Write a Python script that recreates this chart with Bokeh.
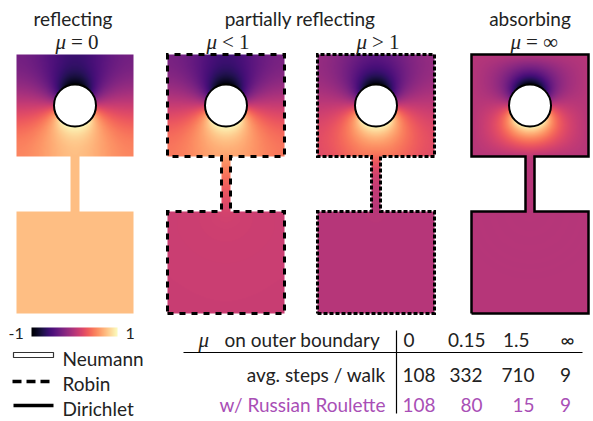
import numpy as np
from bokeh.plotting import figure
from bokeh.models import Range1d
from bokeh.palettes import Magma256
from bokeh.core.properties import value
from bokeh.embed import file_html
from bokeh.resources import INLINE

# ---------------- data ----------------
panel_titles = ["reflecting", "partially reflecting", "absorbing"]
panel_mu_rel = ["=", "<", ">", "="]
panel_mu_val = ["0", "1", "1", "\u221e"]
outer_mu = [0.0, 0.15, 1.5, float("inf")]          # Robin coefficient on outer boundary
outer_mu_labels = ["0", "0.15", "1.5", "\u221e"]
avg_steps = [108, 332, 710, 9]
rr_steps = [108, 80, 15, 9]
row_labels = ["avg. steps / walk", "w/ Russian Roulette"]
legend_labels = ["Neumann", "Robin", "Dirichlet"]
cbar_ticks = ["-1", "1"]
cbar_range = (-1.0, 1.0)
circle_gain, circle_offset = 1.15, 0.12   # Dirichlet data on the hole: -gain*sin(theta)+offset

# ---------------- layout (pixels) ----------------
FW, FH = 593, 421
SQ_W, SQ_H, CH_W, CH_L, R = 117, 102, 9, 55, 21
DOM_H = 2 * SQ_H + CH_L
UNIT = SQ_W                      # one length unit = square width
panel_x = [8, 159, 309, 463]
panel_y = 100
outline_style = [None, ("#000000", 3, "6 6"), ("#000000", 3, "4 2"), ("#000000", 2.5, "solid")]
FONT = "Lato"
MATH = "Liberation Serif"
INK = "#222222"
PURPLE = "#a94fb6"
TY = 4   # text baseline correction


def solve(mu, iters=4000, tol=1e-7):
    """Laplace equation, Dirichlet data on the circle, Robin (mu) on the outer boundary."""
    nx, ny = SQ_W, DOM_H
    xs = np.arange(nx) + 0.5
    ys = np.arange(ny) + 0.5
    X, Y = np.meshgrid(xs, ys)
    cx = SQ_W / 2
    cy = SQ_H + CH_L + SQ_H / 2
    dom = (Y < SQ_H) | (Y >= SQ_H + CH_L) | (np.abs(X - cx) < CH_W / 2)
    rr = np.hypot(X - cx, Y - cy)
    circ = rr < R
    unk = dom & ~circ
    g = np.clip(-circle_gain * (Y - cy) / np.maximum(rr, 1e-9) + circle_offset, -1, 1)
    mu_px = mu / UNIT
    r = -1.0 if np.isinf(mu_px) else (1 - mu_px / 2) / (1 + mu_px / 2)
    D = np.pad(dom, 1)
    k = ((~D[:-2, 1:-1]).astype(float) + (~D[2:, 1:-1]) + (~D[1:-1, :-2]) + (~D[1:-1, 2:]))
    diag = np.where(unk, 4.0 - k * r, 1.0)
    um = unk.astype(float)
    P = np.zeros((ny + 2, nx + 2))

    def nbsum(v):
        P[1:-1, 1:-1] = v
        return P[:-2, 1:-1] + P[2:, 1:-1] + P[1:-1, :-2] + P[1:-1, 2:]

    gf = np.where(circ, g, 0.0)
    b = nbsum(gf) * um

    def A(v):
        return (diag * v - nbsum(v * um)) * um

    x = np.zeros((ny, nx))
    res = b - A(x)
    z = res / diag
    pv = z.copy()
    rz = np.sum(res * z)
    b0 = np.sqrt(np.sum(b * b))
    for _ in range(iters):
        Ap = A(pv)
        alpha = rz / np.sum(pv * Ap)
        x += alpha * pv
        res -= alpha * Ap
        if np.sqrt(np.sum(res * res)) < tol * b0:
            break
        z = res / diag
        rz_new = np.sum(res * z)
        pv = z + (rz_new / rz) * pv
        rz = rz_new
    return x, unk


def hex2u32(h):
    r = int(h[1:3], 16); g = int(h[3:5], 16); b = int(h[5:7], 16)
    return (255 << 24) | (b << 16) | (g << 8) | r


lut = np.array([hex2u32(c) for c in Magma256], dtype=np.uint32)


def colorize(u, mask):
    t = (u - cbar_range[0]) / (cbar_range[1] - cbar_range[0])
    idx = np.clip(np.round(t * 255), 0, 255).astype(int)
    img = np.zeros(u.shape, dtype=np.uint32)
    img[mask] = lut[idx[mask]]
    return img


p = figure(width=FW, height=FH, x_range=Range1d(-8, FW - 8), y_range=Range1d(-8, FH - 8),
           output_backend="svg", toolbar_location=None, min_border=0,
           x_axis_location=None, y_axis_location=None)
p.grid.visible = False
p.outline_line_color = None
p.background_fill_color = "white"
p.border_fill_color = "white"


def txt(x, y, s, size=19, align="left", color=INK, font=FONT, style="normal"):
    p.text(x=[x], y=[y + TY], text=[s], text_font=value(font), text_font_size=f"{size}px",
           text_align=align, text_baseline="alphabetic", text_color=color,
           text_font_style=style)


# ---------------- panels ----------------
for i, mu in enumerate(outer_mu):
    x0 = panel_x[i]
    u, mask = solve(mu)
    p.image_rgba(image=[colorize(u, mask)], x=x0, y=panel_y, dw=SQ_W, dh=DOM_H)
    st = outline_style[i]
    if st is not None:
        c = x0 + SQ_W / 2
        a, b = c - CH_W / 2, c + CH_W / 2
        y0 = panel_y
        y1, y2, y3 = y0 + SQ_H, y0 + SQ_H + CH_L, y0 + DOM_H
        xs = [x0, x0 + SQ_W, x0 + SQ_W, b, b, x0 + SQ_W, x0 + SQ_W, x0, x0, a, a, x0, x0]
        ys = [y0, y0, y1, y1, y2, y2, y3, y3, y2, y2, y1, y1, y0]
        p.line(xs, ys, line_color=st[0], line_width=st[1], line_dash=st[2], line_join="miter")
    cx = x0 + SQ_W / 2
    cy = panel_y + SQ_H + CH_L + SQ_H / 2
    p.circle(x=[cx], y=[cy], radius=R, fill_color="white", line_color="black", line_width=2)
    # mu label
    txt(cx - 9, 368, "\u03bc", size=21, align="right", font=MATH, style="italic")
    txt(cx - 4, 368, panel_mu_rel[i] + " " + panel_mu_val[i], size=21, font=MATH)

# titles
c1 = panel_x[0] + SQ_W / 2
c23 = (panel_x[1] + panel_x[2] + SQ_W) / 2 - 1
c4 = panel_x[3] + SQ_W / 2
txt(c1 - 2, 391, panel_titles[0], align="center")
txt(c23, 391, panel_titles[1], align="center")
txt(c4, 391, panel_titles[2], align="center")

# ---------------- colorbar ----------------
cb = lut[np.arange(256)][None, :]
p.image_rgba(image=[cb], x=23, y=77, dw=86, dh=9)
txt(0, 76, cbar_ticks[0], size=16)
txt(117, 76, cbar_ticks[1], size=16)

# ---------------- legend ----------------
p.quad(left=[5], right=[45], bottom=[56], top=[61], fill_color="white", line_color="#333333", line_width=1.2)
p.line([4, 46], [32, 32], line_color="black", line_width=3.5, line_dash="9 5")
p.line([5, 45], [8, 8], line_color="black", line_width=3.5)
txt(54, 51, legend_labels[0])
txt(54, 26, legend_labels[1])
txt(54, 1, legend_labels[2])

# ---------------- table ----------------
p.line([175, 574], [61, 61], line_color="black", line_width=1.2)
p.line([388, 388], [0, 83], line_color="black", line_width=1.2)
txt(190, 70, "\u03bc", size=21, font=MATH, style="italic")
txt(216, 70, "on outer boundary")
hdr_x = [395, 477, 521, 559]
hdr_al = ["left", "right", "right", "center"]
col_x = [394, 474, 526, 557]
col_al = ["left", "right", "right", "center"]
for j in range(4):
    txt(hdr_x[j], 70, outer_mu_labels[j], align=hdr_al[j])
    txt(col_x[j], 35, str(avg_steps[j]), align=col_al[j])
    txt(col_x[j], 5, str(rr_steps[j]), align=col_al[j], color=PURPLE)
txt(377, 35, row_labels[0], align="right")
txt(377, 5, row_labels[1], align="right", color=PURPLE)

open("out.html", "w").write(file_html(p, INLINE))
